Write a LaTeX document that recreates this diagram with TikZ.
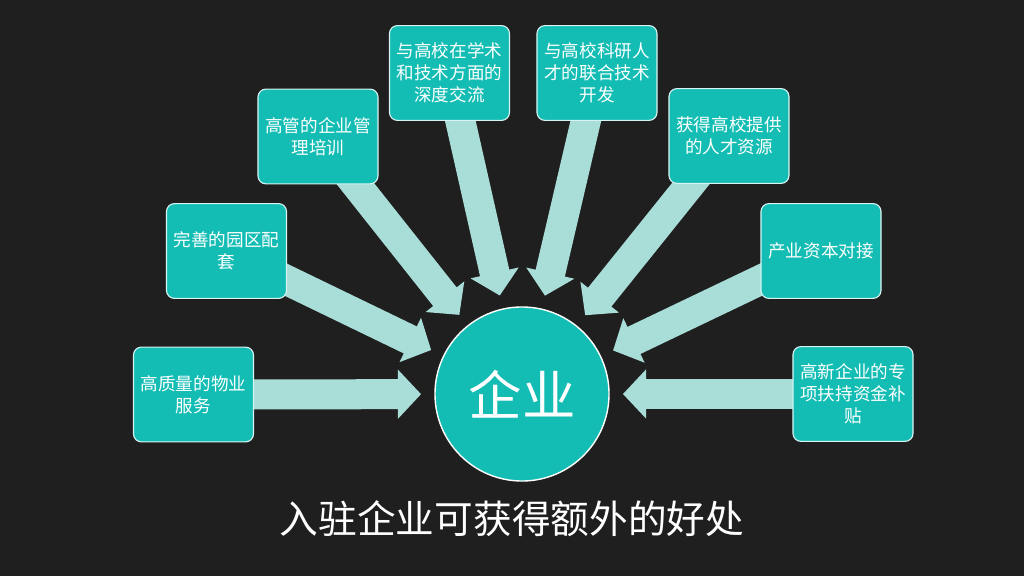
\documentclass[tikz,border=0pt]{standalone}
\usepackage{fontspec}
\setmainfont{Noto Sans CJK SC}
\usetikzlibrary{arrows.meta,backgrounds}
\definecolor{bgdark}{HTML}{1F1F1F}
\definecolor{tealbox}{HTML}{14BDB4}
\definecolor{paleteal}{HTML}{A8DDD8}
\definecolor{rimwhite}{HTML}{D8F4F2}

\begin{document}
\begin{tikzpicture}[
    x=0.025cm, y=-0.025cm,
    perk/.style={
        rectangle,
        rounded corners=0.2cm,
        draw=rimwhite,
        line width=0.8pt,
        fill=tealbox,
        minimum width=3.0cm,
        minimum height=2.37cm,
        align=center,
        text=white,
        font=\fontsize{12.5}{15.5}\selectfont
    },
    feed/.style={
        -{Triangle[width=1.2cm,length=0.58cm]},
        line width=0.75cm,
        paleteal,
        shorten >=0.33cm
    }
]

% Centro
\node[circle, minimum size=4.35cm, fill=tealbox, draw=white, line width=1pt,
      text=white, font=\fontsize{38}{40}\selectfont] (core) at (522,394) {企业};

% Riquadri dei vantaggi
\node[perk] (service)  at (193.5,394.5) {高质量的物业\\服务};
\node[perk] (park)     at (226.5,251)   {完善的园区配\\套};
\node[perk] (training) at (318,136.5)   {高管的企业管\\理培训};
\node[perk] (exchange) at (449.5,73)    {与高校在学术\\和技术方面的\\深度交流};
\node[perk] (research) at (597,73)      {与高校科研人\\才的联合技术\\开发};
\node[perk] (talent)   at (729,136)     {获得高校提供\\的人才资源};
\node[perk] (capital)  at (821,251)     {产业资本对接};
\node[perk] (subsidy)  at (853,394)     {高新企业的专\\项扶持资金补\\贴};

% Titolo
\node[text=white, font=\fontsize{27.5}{30}\selectfont] (headline) at (512,519) {入驻企业可获得额外的好处};

% Sfondo e frecce
\begin{scope}[on background layer]
\fill[bgdark] (0,0) rectangle (1024,576);
\foreach \src in {service,park,training,exchange,research,talent,capital,subsidy}
    \draw[feed] (\src.center) -- (core);
\end{scope}

\end{tikzpicture}
\end{document}
